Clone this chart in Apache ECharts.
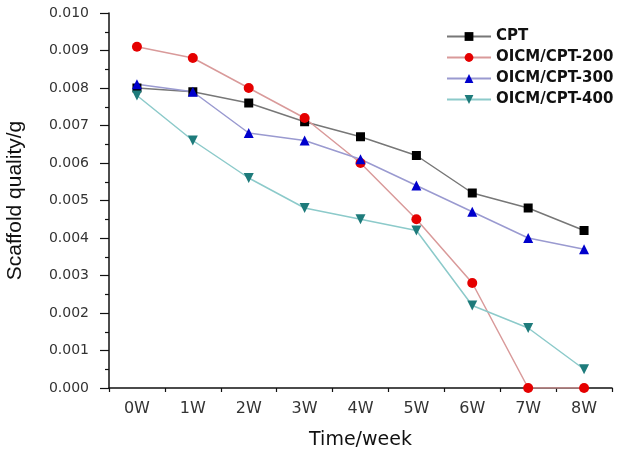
<!DOCTYPE html>
<html><head><meta charset="utf-8">
<script src="https://cdn.jsdelivr.net/npm/echarts@6/dist/echarts.min.js"></script>
<style>html,body{margin:0;padding:0;background:#fff}#c{width:622px;height:454px}</style>
</head><body><div id="c"></div>
<script>
const categories = ['0W','1W','2W','3W','4W','5W','6W','7W','8W'];
const seriesNames = ['CPT','OICM/CPT-200','OICM/CPT-300','OICM/CPT-400'];
const cpt = [0.0080,0.0079,0.0076,0.0071,0.0067,0.0062,0.0052,0.0048,0.0042];
const oicm200 = [0.0091,0.0088,0.0080,0.0072,0.0060,0.0045,0.0028,0.0000,0.0000];
const oicm300 = [0.0081,0.0079,0.0068,0.0066,0.0061,0.0054,0.0047,0.0040,0.0037];
const oicm400 = [0.0078,0.0066,0.0056,0.0048,0.0045,0.0042,0.0022,0.0016,0.0005];

const FONT = 'DejaVu Sans';
function mk(name, data, marker, line, symbol, rot, size){
  return {name, type:'line', data, symbol, symbolRotate:rot, symbolSize:size,
    itemStyle:{color:marker}, lineStyle:{color:line, width:1.5}, z:3};
}
const chart = echarts.init(document.getElementById('c'));
chart.setOption({
  animation:false,
  textStyle:{fontFamily:FONT},
  grid:{left:109, top:13, right:10, bottom:66, containLabel:false, outerBoundsMode:'none'},
  legend:{
    orient:'vertical', left:441, top:24, itemWidth:44, itemHeight:11, itemGap:6,
    textStyle:{fontFamily:'DejaVu Sans', fontWeight:'bold', fontSize:15, color:'#111'},
    data:seriesNames
  },
  xAxis:[{
    type:'category', data:categories, boundaryGap:true,
    name:'Time/week', nameLocation:'middle', nameGap:43,
    nameTextStyle:{fontSize:19, color:'#111', fontFamily:FONT},
    axisLine:{lineStyle:{color:'#111', width:1.5}},
    axisTick:{alignWithLabel:true, length:7, lineStyle:{color:'#111', width:1.2}},
    axisLabel:{fontSize:16, color:'#333', margin:13, fontFamily:FONT},
    splitLine:{show:false}
  },{
    type:'category', data:categories, boundaryGap:true, position:'bottom',
    axisLine:{show:false},
    axisTick:{show:true, length:4, lineStyle:{color:'#111', width:1.2}},
    axisLabel:{show:false}, splitLine:{show:false}
  }],
  yAxis:{
    type:'value', min:0, max:0.010, interval:0.001,
    name:'Scaffold quality/g', nameLocation:'middle', nameGap:83,
    nameTextStyle:{fontSize:21, color:'#111', fontFamily:'Liberation Sans'},
    axisLine:{show:true, lineStyle:{color:'#111', width:1.5}},
    axisTick:{show:true, length:9, lineStyle:{color:'#111', width:1.2}},
    minorTick:{show:true, splitNumber:2, length:4, lineStyle:{color:'#111', width:1.2}},
    axisLabel:{fontSize:14, color:'#333', margin:20, fontFamily:FONT,
      formatter:v=>v.toFixed(3)},
    splitLine:{show:false}
  },
  series:[
    mk(seriesNames[0], cpt, '#000', '#777', 'rect', 0, 9),
    mk(seriesNames[1], oicm200, '#e50000', '#d99a9a', 'circle', 0, 10),
    mk(seriesNames[2], oicm300, '#0000cc', '#9a9ad0', 'triangle', 0, 10),
    mk(seriesNames[3], oicm400, '#1e7b7b', '#8ccaca', 'triangle', 180, 10)
  ]
});
</script></body></html>
